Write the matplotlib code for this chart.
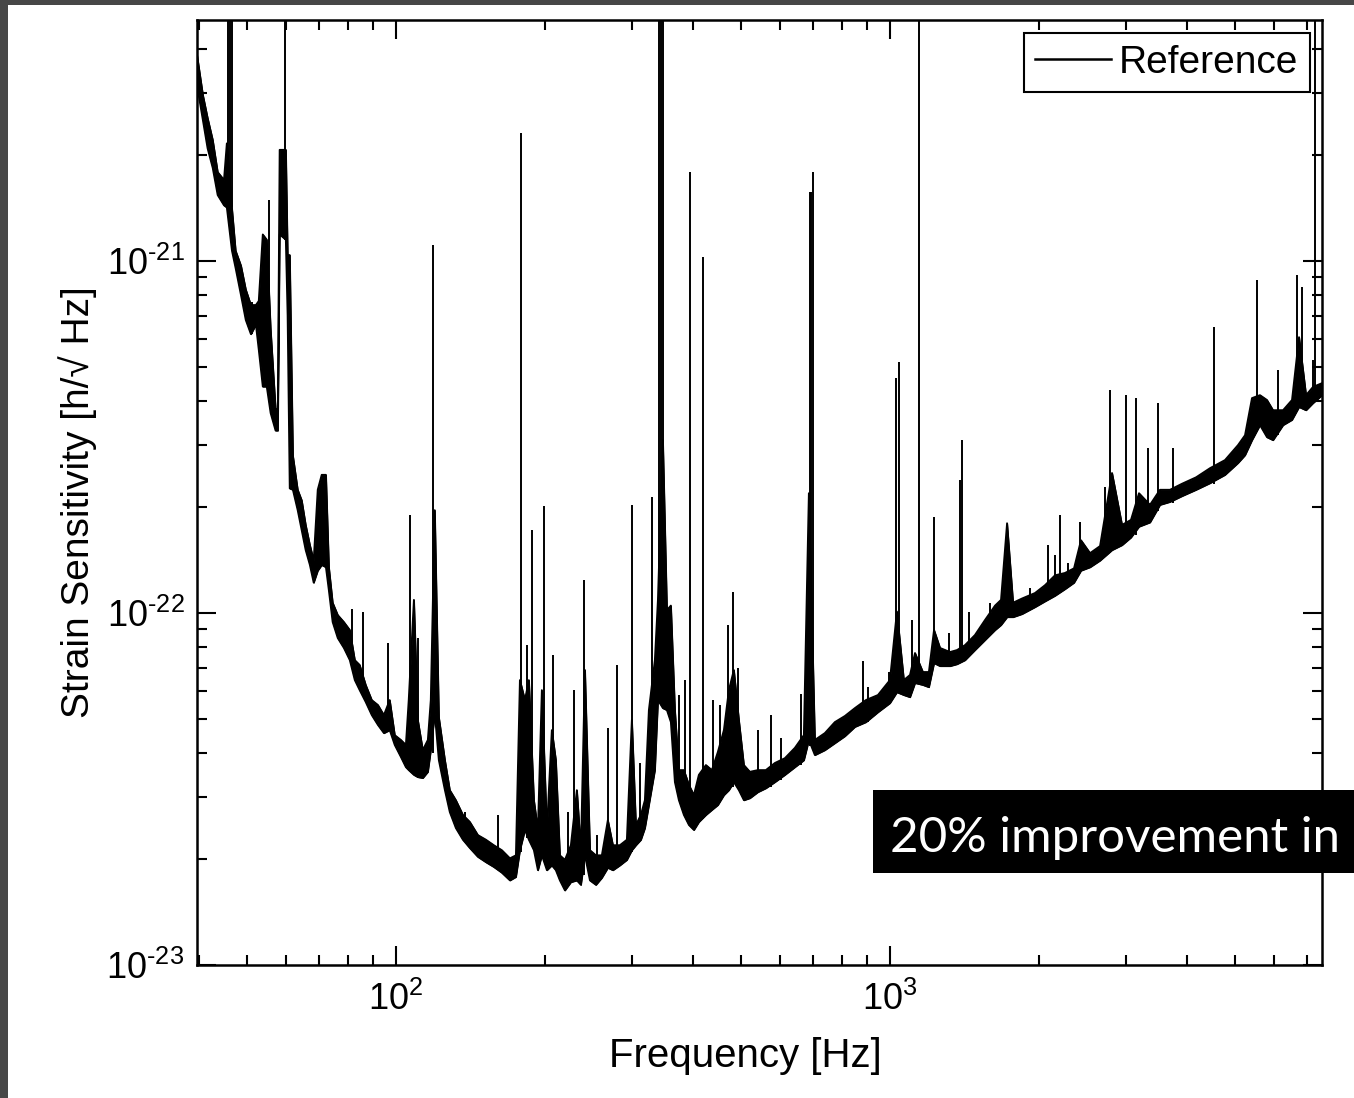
import numpy as np
import matplotlib
matplotlib.use('Agg')
import matplotlib.pyplot as plt
from matplotlib.patches import Rectangle
from matplotlib.ticker import LogLocator, NullFormatter

plt.rcParams['font.family'] = ['Liberation Sans', 'DejaVu Sans']
plt.rcParams['mathtext.fontset'] = 'custom'
plt.rcParams['mathtext.rm'] = 'Liberation Sans'
plt.rcParams['mathtext.it'] = 'Liberation Sans:italic'
plt.rcParams['mathtext.bf'] = 'Liberation Sans:bold'

# noise floor of the spectrum: frequency [Hz], lower / upper edge of the band [1e-23 /rtHz]
freq = [39.6, 40.7, 41.6, 42.6, 43.6, 44.9, 45.5, 46.6, 47.4, 48.6,
        49.7, 50.9, 52.1, 52.8, 53.8, 54.8, 55.8, 57.1, 57.7, 58.2,
        59.9, 60.4, 61.0, 61.9, 63.3, 64.5, 65.7, 67.0, 68.2, 69.5,
        70.8, 72.2, 73.2, 74.5, 76.3, 78.5, 80.7, 82.6, 84.5, 86.9,
        89.4, 92.0, 94.6, 97.2, 99.5, 102.4, 104.8, 106.2, 108.8, 110.8,
        113.4, 116.1, 117.7, 119.9, 122.2, 125.7, 128.6, 132.3, 136.7, 141.2,
        146.6, 152.2, 157.9, 163.9, 170.2, 175.0, 178.3, 182.5, 185.9, 190.3,
        193.9, 197.5, 202.2, 206.9, 210.8, 214.8, 219.9, 226.1, 232.5, 236.9,
        241.4, 247.1, 254.1, 261.2, 268.6, 275.0, 284.1, 293.5, 300.4, 306.1,
        313.3, 319.2, 325.2, 334.4, 339.2, 347.1, 353.7, 360.3, 367.1, 374.0,
        382.8, 391.9, 401.1, 410.5, 424.2, 436.2, 448.5, 461.3, 472.1, 483.2,
        494.6, 506.3, 520.7, 540.4, 560.9, 585.0, 612.9, 642.1, 669.6, 685.4,
        704.8, 738.4, 773.6, 810.6, 849.3, 894.0, 945.7, 1000, 1033, 1067,
        1098, 1124, 1166, 1199, 1228, 1263, 1323, 1367, 1419, 1486,
        1557, 1632, 1678, 1726, 1775, 1851, 1966, 2060, 2158, 2261,
        2358, 2436, 2541, 2662, 2815, 2949, 3075, 3192, 3360, 3520,
        3688, 3900, 4164, 4444, 4765, 5063, 5231, 5404, 5609, 5795,
        5961, 6246, 6512, 6729, 6952, 7182, 7491]
floor_lo = [316, 251, 209, 184, 154, 144, 142, 107, 95.5, 80,
            68, 62, 66, 56, 44, 44, 37, 33, 33, 119,
            115, 70, 22.6, 22.4, 19.6, 17.2, 15.1, 13.7, 12.2, 13.2,
            13.7, 13.5, 11.6, 9.43, 8.49, 7.96, 7.35, 6.45, 6.04, 5.59,
            5.13, 4.81, 4.56, 4.65, 4.22, 3.90, 3.65, 3.58, 3.47, 3.42,
            3.40, 3.54, 4.08, 5.20, 3.82, 3.14, 2.72, 2.45, 2.27, 2.15,
            2.03, 1.96, 1.90, 1.83, 1.74, 1.78, 2.12, 2.42, 2.27, 2.12,
            1.86, 2.05, 1.86, 1.92, 1.86, 1.74, 1.63, 1.72, 1.74, 1.69,
            2.05, 1.74, 1.69, 1.77, 1.89, 1.86, 1.92, 1.99, 2.12, 2.19,
            2.27, 2.45, 2.85, 3.58, 5.66, 5.37, 5.30, 4.90, 3.31, 2.94,
            2.67, 2.50, 2.42, 2.55, 2.67, 2.76, 2.85, 3.04, 3.14, 3.31,
            3.14, 2.94, 2.98, 3.10, 3.18, 3.31, 3.47, 3.65, 3.82, 4.36,
            3.95, 4.08, 4.27, 4.47, 4.75, 4.90, 5.23, 5.55, 5.96, 5.85,
            5.77, 6.33, 6.25, 6.16, 7.21, 7.07, 7.07, 7.16, 7.35, 7.85,
            8.38, 8.95, 9.25, 9.74, 9.74, 9.94, 10.4, 10.8, 11.2, 11.7,
            12.2, 13.2, 13.5, 14.1, 15.1, 15.6, 16.4, 17.6, 18.1, 20.3,
            20.7, 21.5, 22.4, 23.4, 24.7, 26.7, 28.1, 31.0, 34.2, 31.6,
            31.0, 34.2, 35.4, 38.5, 37.7, 39.5, 41.6]
floor_hi = [385, 296, 255, 221, 179, 170, 216, 141, 107, 97,
            83, 75, 75, 77, 119, 115, 64, 38, 38, 207,
            207, 104, 104, 28, 22.4, 20.9, 17.8, 15.6, 14.1, 22.4,
            24.7, 24.7, 13.5, 10.7, 9.87, 9.43, 8.95, 7.35, 7.12, 6.25,
            5.66, 5.48, 5.13, 5.66, 4.50, 4.36, 4.22, 5.66, 10.9, 4.97,
            4.08, 4.36, 5.66, 19.6, 5.06, 3.82, 3.14, 2.94, 2.67, 2.55,
            2.34, 2.27, 2.19, 2.12, 2.01, 2.05, 6.45, 5.66, 6.45, 2.94,
            2.42, 6.04, 2.42, 4.65, 3.82, 2.05, 1.99, 2.19, 3.14, 2.12,
            6.89, 2.12, 2.05, 2.05, 2.58, 2.19, 2.19, 2.27, 4.97, 2.50,
            2.67, 2.94, 5.30, 7.35, 10.9, 31.0, 10.2, 10.5, 5.30, 3.58,
            3.58, 3.25, 3.04, 3.47, 3.70, 3.58, 4.03, 4.65, 6.04, 6.89,
            4.97, 3.70, 3.54, 3.58, 3.58, 3.75, 3.87, 4.14, 4.50, 21.9,
            4.36, 4.56, 4.90, 5.10, 5.37, 5.66, 5.85, 6.45, 10.1, 6.45,
            6.67, 7.70, 6.80, 6.80, 8.95, 7.96, 7.75, 7.85, 8.11, 8.66,
            9.55, 10.5, 10.9, 18.0, 10.7, 11.0, 11.4, 12.0, 12.8, 13.0,
            13.4, 16.1, 14.8, 15.5, 25.0, 17.8, 18.4, 21.9, 20.3, 22.4,
            22.4, 23.3, 24.3, 25.8, 27.2, 30.0, 32.0, 40.8, 41.6, 40.3,
            37.7, 37.7, 40.3, 60.8, 41.6, 43.9, 45.0]

# narrow lines: frequency [Hz], foot and peak [1e-23 /rtHz] (1000 = off the top)
line_freq = [45.7, 46.1, 46.6, 51.1, 55.3, 59.6, 81.4, 85.7, 96.3, 106.7,
             110.8, 118.8, 138.0, 160.9, 179.1, 184.2, 188.5, 199.4, 207.9, 223.0,
             229.3, 240.2, 255.2, 268.6, 280.1, 300.4, 311.8, 329.8, 340.7, 343.9,
             347.1, 374.0, 384.6, 393.7, 418.2, 438.1, 452.7, 469.9, 481.0, 492.4,
             540.4, 574.2, 601.6, 660.5, 688.8, 692.0, 698.5, 881.5, 902.3, 995.4,
             1028, 1043, 1108, 1145, 1228, 1317, 1386, 1399, 1445, 1594,
             1921, 2089, 2158, 2209, 2293, 2425, 2724, 2789, 3005, 3148,
             3329, 3488, 3741, 4528, 5533, 6102, 6667, 6824, 7182, 7251]
line_base = [142, 142, 142, 62, 44, 115, 7.3, 6.0, 4.6, 3.6,
             3.4, 4.0, 2.3, 1.9, 2.1, 2.3, 2.2, 2.0, 1.9, 1.7,
             1.75, 1.8, 1.7, 1.9, 1.9, 2.1, 2.3, 3.5, 5.6, 5.5,
             5.4, 3.0, 2.7, 2.5, 2.6, 2.8, 2.9, 3.1, 3.2, 3.2,
             3.2, 3.2, 3.35, 3.7, 4.2, 4.2, 4.2, 4.9, 4.9, 5.5,
             6.0, 6.0, 6.0, 6.3, 7.2, 7.3, 7.5, 7.5, 7.6, 8.7,
             10.5, 11.0, 11.2, 11.5, 12.0, 13.2, 15.0, 15.0, 16.0, 16.7,
             18.0, 19.5, 20.5, 23.3, 33.0, 32.0, 38.0, 38.0, 40.0, 40.0]
line_top = [1000, 1000, 1000, 76.5, 149, 1000, 10.3, 10.1, 8.2, 19.0,
            8.5, 111, 2.72, 2.67, 231, 8.1, 17.2, 20.1, 7.6, 2.72,
            6.04, 12.4, 2.34, 4.71, 7.12, 20.3, 3.75, 21.4, 1000, 1000,
            1000, 5.85, 6.45, 179, 103, 5.66, 5.48, 9.25, 11.5, 6.98,
            4.65, 5.13, 4.41, 5.89, 157, 157, 179, 7.31, 6.16, 6.80,
            46.5, 51.7, 9.55, 1000, 18.7, 8.77, 23.9, 31.0, 10.1, 10.7,
            11.8, 15.6, 14.6, 19.0, 13.9, 18.1, 22.8, 43.0, 41.6, 40.8,
            29.4, 39.5, 29.4, 64.9, 88.3, 49.0, 91.3, 84.4, 52.3, 1000]

x_ticks = [100, 1000]
x_ticklabels = [r'$\mathdefault{10^{2}}$', r'$\mathdefault{10^{3}}$']
y_ticks = [1e-23, 1e-22, 1e-21]
y_ticklabels = [r'$\mathdefault{10^{\text{-}23}}$', r'$\mathdefault{10^{\text{-}22}}$',
                r'$\mathdefault{10^{\text{-}21}}$']

unit = 1e-23
lo = np.array(floor_lo) * unit
hi = np.array(floor_hi) * unit

fig = plt.figure(figsize=(13.54, 10.98), dpi=100, facecolor='#474747')
fig.add_artist(Rectangle((8 / 1354, 0), 1, 1 - 5 / 1098, transform=fig.transFigure,
                         facecolor='white', edgecolor='none', zorder=0))

ax = fig.add_axes([0.1455, 0.1211, 0.8309, 0.8607])
ax.fill_between(freq, lo, hi, color='black', lw=0.8)
ax.plot(freq, lo, color='black', lw=1.3, label='Reference')
ax.plot(freq, hi, color='black', lw=1.3)
ax.vlines(line_freq, np.array(line_base) * unit, np.array(line_top) * unit,
          color='black', lw=1.4)

ax.set_xscale('log')
ax.set_yscale('log')
ax.set_xlim(39.6, 7491)
ax.set_ylim(1e-23, 4.84e-21)

ax.set_xticks(x_ticks)
ax.set_xticklabels(x_ticklabels)
ax.set_yticks(y_ticks)
ax.set_yticklabels(y_ticklabels)
ax.xaxis.set_minor_locator(LogLocator(base=10, subs=np.arange(2, 10), numticks=20))
ax.yaxis.set_minor_locator(LogLocator(base=10, subs=np.arange(2, 10), numticks=20))
ax.xaxis.set_minor_formatter(NullFormatter())
ax.yaxis.set_minor_formatter(NullFormatter())
ax.tick_params(which='both', direction='in', top=True, right=True, width=1.5,
               colors='black', labelsize=26)
ax.tick_params(which='major', length=14)
ax.tick_params(which='minor', length=7)
ax.tick_params(axis='x', pad=12)
ax.tick_params(axis='y', pad=9)
for s in ax.spines.values():
    s.set_linewidth(1.8)

ax.set_xlabel('Frequency [Hz]', fontsize=29)
ax.set_ylabel('Strain Sensitivity [h/\u221a Hz]', fontsize=28)
ax.xaxis.set_label_coords(0.487, -0.0762)
ax.yaxis.set_label_coords(-0.0889, 0.49)

leg = ax.legend(loc='upper right', bbox_to_anchor=(0.9893, 0.9862), borderaxespad=0,
                fancybox=False, edgecolor='black', framealpha=1, fontsize=28,
                handlelength=1.95, handletextpad=0.2, borderpad=0.3)
leg.get_frame().set_linewidth(1.5)
leg.get_lines()[0].set_linewidth(1.8)

# black caption box cut by the right edge of the slide
fig.add_artist(Rectangle((873 / 1354, 1 - 873 / 1098), 1, 83 / 1098,
                         transform=fig.transFigure, facecolor='black',
                         edgecolor='none', zorder=5))
fig.text(890 / 1354, 1 - 852 / 1098, '20% improvement in', color='white',
         fontsize=35.5, family=['Lato', 'DejaVu Sans'], ha='left', va='baseline', zorder=6)

fig.savefig('out.png', dpi=100, facecolor=fig.get_facecolor())
